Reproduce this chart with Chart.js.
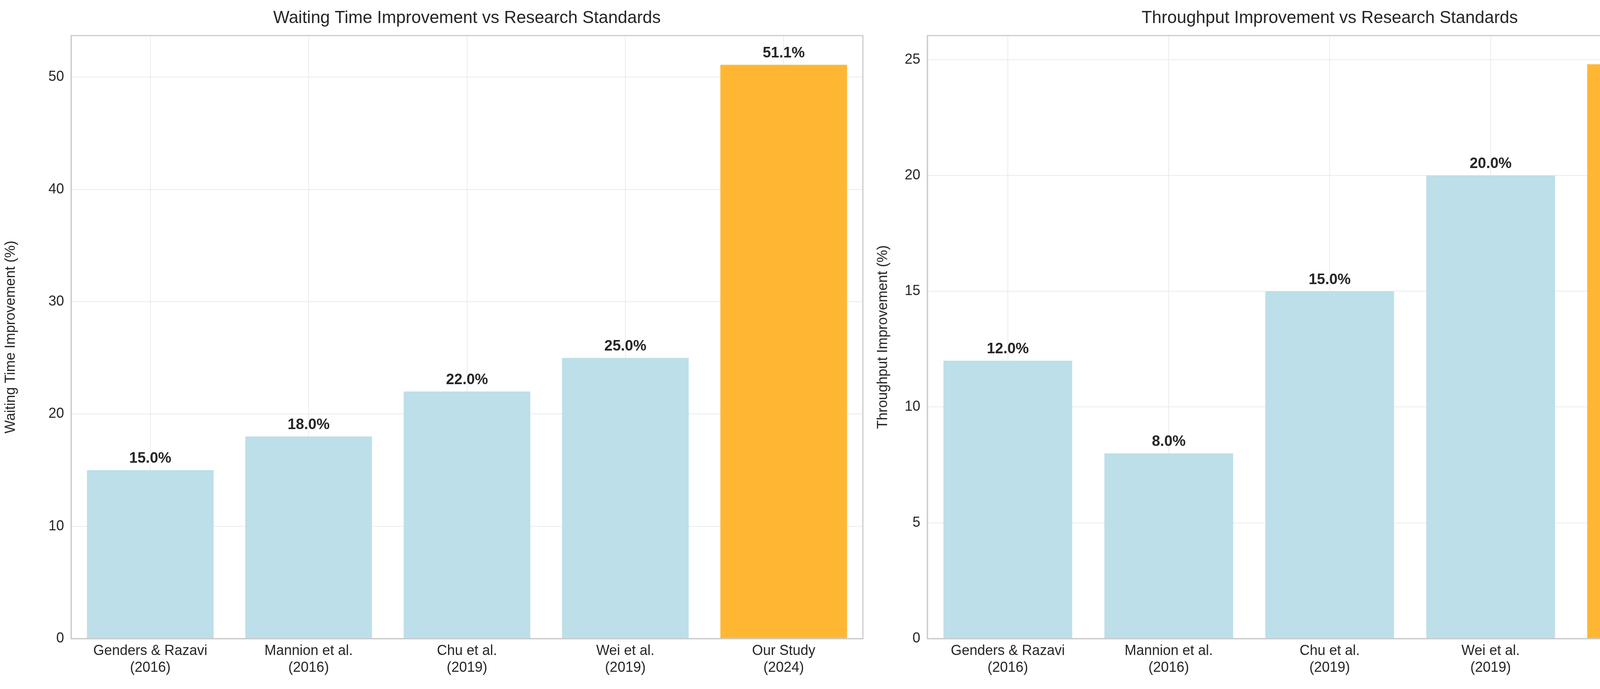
<!DOCTYPE html>
<html><head>
<script src="https://cdn.jsdelivr.net/npm/chart.js@4"></script>
<style>
html,body{margin:0;padding:0;background:#fff}
body{width:4466px;height:1763px;position:relative;overflow:hidden}
canvas{position:absolute;top:0}
</style></head><body>
<canvas id="c1" width="2233" height="1763" style="left:0;width:2233px;height:1763px"></canvas>
<canvas id="c2" width="2233" height="1763" style="left:2233px;width:2233px;height:1763px"></canvas>
<script>
const studies = [['Genders & Razavi','(2016)'],['Mannion et al.','(2016)'],['Chu et al.','(2019)'],['Wei et al.','(2019)'],['Our Study','(2024)']];
const waitingValues = [15.0, 18.0, 22.0, 25.0, 51.1];
const throughputValues = [12.0, 8.0, 15.0, 20.0, 24.8];
const barColors = ['#bddfe9','#bddfe9','#bddfe9','#bddfe9','#ffb733'];

Chart.defaults.font.family = "'Liberation Sans', Arial, sans-serif";
Chart.defaults.color = '#262626';

const decor = {
  id: 'decor',
  afterDatasetsDraw(chart, args, opts) {
    const { ctx, chartArea } = chart;
    ctx.save();
    ctx.strokeStyle = '#cccccc';
    ctx.lineWidth = 3;
    ctx.strokeRect(chartArea.left, chartArea.top, chartArea.right - chartArea.left, chartArea.bottom - chartArea.top);
    ctx.fillStyle = '#262626';
    ctx.textAlign = 'center';
    ctx.font = "44px 'Liberation Sans'";
    ctx.textBaseline = 'bottom';
    ctx.fillText(opts.title, (chartArea.left + chartArea.right) / 2, chartArea.top - 22);
    ctx.font = "bold 38px 'Liberation Sans'";
    const meta = chart.getDatasetMeta(0);
    meta.data.forEach((bar, i) => {
      ctx.fillText(chart.data.datasets[0].data[i].toFixed(1) + '%', bar.x, bar.y - 10);
    });
    ctx.restore();
  }
};

function make(id, values, title, yTitle, max, step, yWidth, rightPad) {
  return new Chart(document.getElementById(id), {
    type: 'bar',
    data: { labels: studies, datasets: [{ data: values, backgroundColor: barColors, barPercentage: 0.8, categoryPercentage: 1 }] },
    plugins: [decor],
    options: {
      responsive: false, devicePixelRatio: 1, animation: false,
      layout: { padding: { top: 91, right: rightPad, left: 0, bottom: 0 } },
      plugins: { legend: { display: false }, tooltip: { enabled: false }, decor: { title } },
      scales: {
        x: {
          grid: { color: '#ebebeb', lineWidth: 2, offset: false, drawTicks: false },
          border: { color: '#cccccc', width: 3 },
          ticks: { font: { size: 36 }, color: '#262626', padding: 10, maxRotation: 0 },
          afterFit: s => { s.height = 129; }
        },
        y: {
          min: 0, max,
          grid: { color: '#ebebeb', lineWidth: 2, drawTicks: false },
          border: { color: '#cccccc', width: 3 },
          ticks: { stepSize: step, font: { size: 36 }, color: '#262626', padding: 18 },
          title: { display: true, text: yTitle, font: { size: 36 }, color: '#262626', padding: 6 },
          afterBuildTicks: s => { s.ticks = s.ticks.filter(t => t.value % step === 0); },
          afterFit: s => { s.width = yWidth; }
        }
      }
    }
  });
}

make('c1', waitingValues, 'Waiting Time Improvement vs Research Standards', 'Waiting Time Improvement (%)', 53.7, 10, 182, 24);
make('c2', throughputValues, 'Throughput Improvement vs Research Standards', 'Throughput Improvement (%)', 26.04, 5, 141, 32);
</script>
</body></html>
